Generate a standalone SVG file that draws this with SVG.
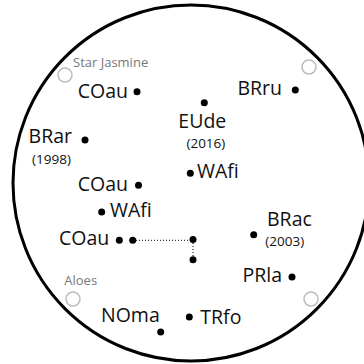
<svg xmlns="http://www.w3.org/2000/svg" width="364" height="364" viewBox="0 0 364 364">
<style>
.lbl{font-family:"Open Sans","Noto Sans",sans-serif;font-size:19.5px;fill:#111}
.yr{font-family:"Open Sans","Noto Sans",sans-serif;font-size:13.5px;fill:#111}
.grey{font-family:"Open Sans","Noto Sans",sans-serif;font-size:13px;fill:#777}
.dot{fill:#000}
.ring{fill:none;stroke:#bbb;stroke-width:1.5}
.conn{stroke:#000;stroke-width:1;stroke-dasharray:1 2;fill:none}
</style>
<rect width="364" height="364" fill="#fff"/>
<circle cx="191" cy="183" r="178" fill="none" stroke="#000" stroke-width="3"/>
<g id="markers">
<circle class="ring" cx="65" cy="75" r="7"/>
<circle class="ring" cx="309" cy="67" r="7"/>
<circle class="ring" cx="73" cy="299" r="7"/>
<circle class="ring" cx="311" cy="299" r="7"/>
</g>
<g id="connectors">
<line class="conn" x1="136" y1="240.3" x2="190" y2="240.3"/>
<line class="conn" x1="193" y1="243" x2="193" y2="257"/>
</g>
<g id="star-jasmine"><text class="grey" x="73" y="67">Star Jasmine</text></g>
<g id="aloes"><text class="grey" x="64.3" y="285.3">Aloes</text></g>
<g id="coau1"><text class="lbl" x="128" y="97.5" text-anchor="end">COau</text><circle class="dot" cx="137" cy="91.7" r="3.5"/></g>
<g id="brar"><text class="lbl" x="72" y="143" text-anchor="end">BRar</text><text class="yr" x="51.5" y="163.5" text-anchor="middle">(1998)</text><circle class="dot" cx="85" cy="140" r="3.5"/></g>
<g id="coau2"><text class="lbl" x="128" y="191" text-anchor="end">COau</text><circle class="dot" cx="138.5" cy="185.3" r="3.5"/></g>
<g id="eude"><circle class="dot" cx="204.3" cy="102.7" r="3.5"/><text class="lbl" x="226.3" y="127.8" text-anchor="end">EUde</text><text class="yr" x="225.3" y="148" text-anchor="end">(2016)</text></g>
<g id="bru"><text class="lbl" x="282" y="95" text-anchor="end">BRru</text><circle class="dot" cx="295.3" cy="90" r="3.5"/></g>
<g id="wafi1"><circle class="dot" cx="190.3" cy="173.3" r="3.5"/><text class="lbl" x="197" y="178">WAfi</text></g>
<g id="wafi2"><circle class="dot" cx="101.7" cy="212" r="3.5"/><text class="lbl" x="110" y="217">WAfi</text></g>
<g id="coau3"><text class="lbl" x="109.3" y="245.3" text-anchor="end">COau</text><circle class="dot" cx="119.3" cy="240.3" r="3.5"/><circle class="dot" cx="132.7" cy="240.3" r="3.5"/></g>
<g id="junction1"><circle class="dot" cx="193" cy="239.5" r="3.5"/></g>
<g id="junction2"><circle class="dot" cx="193" cy="259.7" r="3.5"/></g>
<g id="brac"><circle class="dot" cx="253.7" cy="234.7" r="3.5"/><text class="lbl" x="267" y="226">BRac</text><text class="yr" x="265.3" y="246">(2003)</text></g>
<g id="prla"><text class="lbl" x="282" y="282" text-anchor="end">PRla</text><circle class="dot" cx="292" cy="277" r="3.5"/></g>
<g id="noma"><text class="lbl" x="101" y="322">NOma</text><circle class="dot" cx="160.7" cy="332" r="3.5"/></g>
<g id="trfo"><circle class="dot" cx="189.3" cy="317" r="3.5"/><text class="lbl" x="200.3" y="323.7">TRfo</text></g>
</svg>
